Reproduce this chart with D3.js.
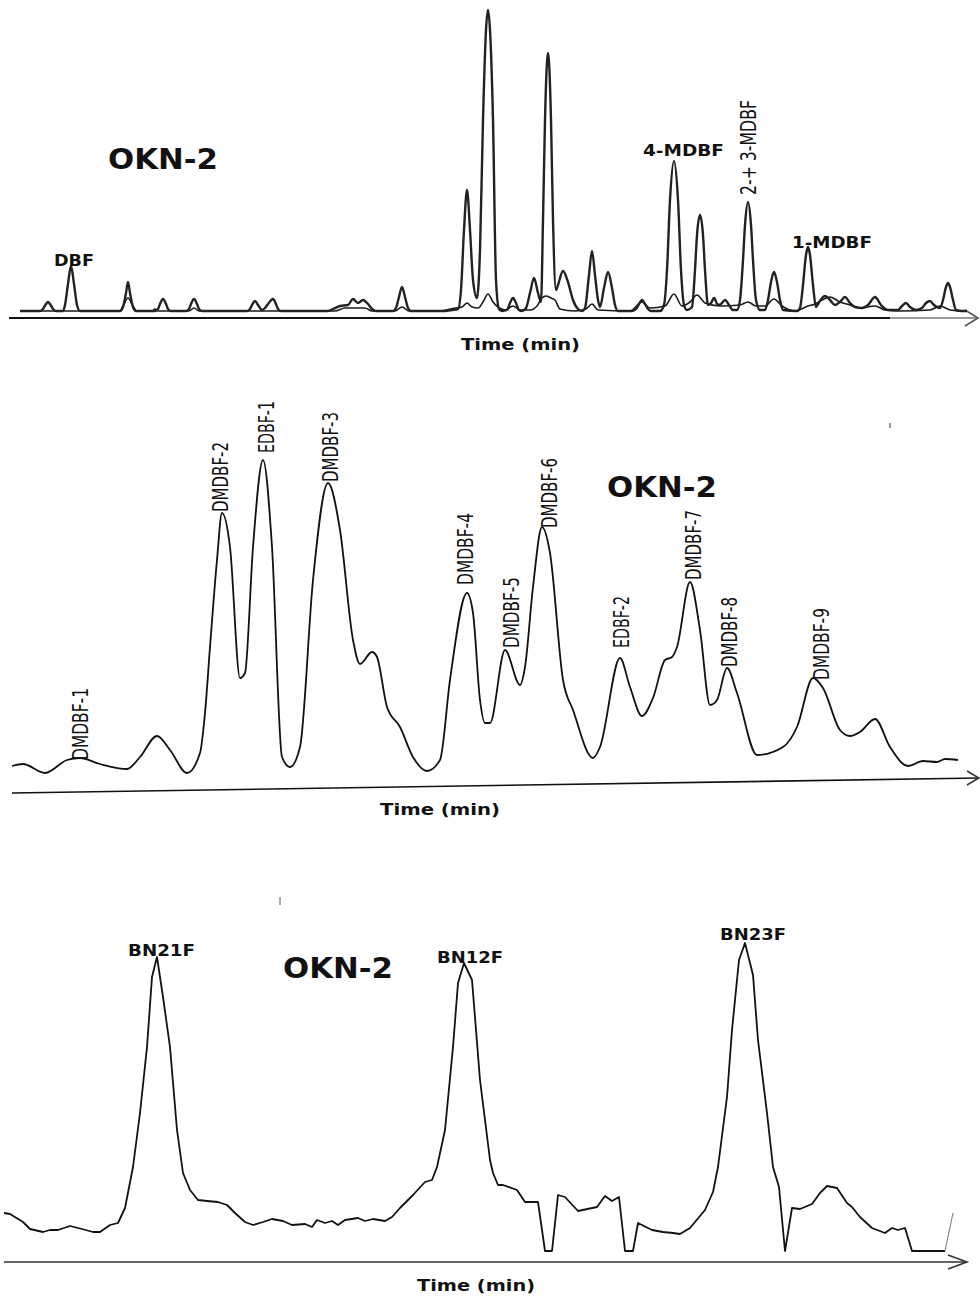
<!DOCTYPE html>
<html>
<head>
<meta charset="utf-8">
<script src="https://cdn.jsdelivr.net/npm/d3@7"></script>
<style>
  html, body { margin: 0; padding: 0; background: #fff; }
  text { font-family: "DejaVu Sans", Verdana, sans-serif; fill: #111; }
</style>
</head>
<body>
<svg id="fig" width="980" height="1298"></svg>
<script>
// ---- Panel A: m/z 182 (methyldibenzofurans) and m/z 168 (DBF), time in min, abundance in arbitrary units
const mdbfTrace = [
  [1.0,0],[2.0,0],[2.15,2],[2.3,7],[2.4,9],[2.5,7],[2.65,2],[2.8,0],
  [3.15,0],[3.25,6],[3.4,27],[3.55,45],[3.7,27],[3.85,6],[4.0,0],
  [6.0,0],[6.15,4],[6.3,18],[6.4,29],[6.5,18],[6.65,4],[6.8,0],
  [7.75,0],[7.9,2],[8.0,7],[8.15,12],[8.3,7],[8.4,2],[8.55,0],
  [9.3,0],[9.45,2],[9.55,7],[9.7,12],[9.85,7],[9.95,2],[10.1,0],
  [12.35,0],[12.5,2],[12.6,6],[12.75,10],[12.9,6],[13.1,1],[13.25,3],[13.4,7],[13.65,12],[13.8,7],[13.9,2],[14.05,0],
  [16.4,0],[16.65,2],[17.0,5],[17.4,6],[17.65,12],[17.9,8],[18.15,11],[18.4,7],[18.6,2],[18.8,0],
  [19.65,0],[19.8,3],[19.95,14],[20.1,24],[20.25,14],[20.4,3],[20.55,0],
  [22.25,0],[22.6,1],[22.9,2],[23.05,21],[23.2,81],[23.35,121],[23.5,81],[23.65,31],[23.85,13],
  [24.0,61],[24.15,191],[24.3,281],[24.4,301],[24.5,281],[24.65,191],[24.8,31],[24.95,2],[25.1,0],
  [25.35,1],[25.5,8],[25.65,13],[25.8,8],[25.95,1],[26.1,0],
  [26.3,3],[26.5,18],[26.7,33],[26.9,18],[27.05,9],
  [27.15,91],[27.25,191],[27.35,249],[27.4,258],[27.45,249],[27.55,191],[27.65,91],[27.8,21],
  [27.9,26],[28.15,40],[28.4,29],[28.65,11],[28.9,2],[29.1,0],
  [29.25,3],[29.45,36],[29.6,60],[29.75,36],[29.9,11],
  [30.0,4],[30.2,23],[30.4,39],[30.6,23],[30.75,6],[30.9,0],
  [31.6,0],[31.8,2],[31.95,7],[32.1,11],[32.25,7],[32.4,2],[32.55,0],
  [33.0,0],[33.2,6],[33.35,41],[33.5,111],[33.7,150],[33.9,111],[34.05,41],[34.2,6],[34.35,1],
  [34.6,4],[34.75,41],[34.85,76],[35.0,96],[35.15,76],[35.25,41],[35.4,6],
  [35.55,8],[35.7,13],[35.9,6],[36.05,7],[36.25,11],[36.45,6],[36.65,1],[36.85,1],
  [37.0,11],[37.15,51],[37.25,86],[37.4,109],[37.55,86],[37.65,51],[37.8,11],[38.0,1],
  [38.25,1],[38.4,11],[38.55,29],[38.7,39],[38.85,29],[39.0,11],[39.15,1],
  [39.85,0],[40.0,3],[40.15,26],[40.3,56],[40.4,64],[40.5,56],[40.65,26],[40.8,4],
  [40.9,7],[41.1,13],[41.25,15],[41.5,11],[41.75,6],[42.0,9],[42.25,14],[42.5,8],[42.75,4],
  [43.1,3],[43.4,6],[43.75,14],[44.05,6],[44.4,1],[44.9,1],[45.1,5],[45.3,8],[45.5,4],[45.8,1],
  [46.1,3],[46.3,8],[46.5,10],[46.7,6],[47.0,3],[47.15,11],[47.3,24],[47.4,28],[47.5,24],[47.65,11],[47.8,1],
  [48.1,0],[48.35,0]
];
const dbfTrace = [
  [1.0,0],[6.0,0],[6.15,5],[6.4,13],[6.65,5],[6.85,0],
  [7.6,0],[7.75,2],[7.9,0],
  [9.45,0],[9.7,3],[9.95,0],
  [16.75,0],[17.25,3],[17.75,3],[18.25,3],[18.6,0],
  [19.75,0],[20.1,4],[20.45,0],
  [22.0,0],[22.75,3],[23.1,4],[23.35,8],[23.6,4],[23.9,3],[24.15,9],[24.4,17],[24.65,9],[24.9,4],
  [25.25,1],[25.65,5],[26.0,1],[26.5,1],[26.85,5],[27.1,13],[27.3,15],[27.55,13],[27.75,11],[28.0,2],
  [28.75,0],[29.3,2],[29.6,7],[29.9,1],[31.5,0],[32.1,9],[32.5,3],[33.25,5],[33.7,17],[34.1,5],
  [34.5,9],[34.85,16],[35.25,8],[36.0,5],[37.0,6],[37.4,9],[37.8,5],[38.25,5],[38.7,12],[39.1,5],
  [39.75,0],[40.4,5],[40.75,7],[41.1,11],[41.5,14],[42.0,9],[42.5,6],[43.0,3],[43.75,5],[44.25,1],
  [45.0,0],[46.5,1],[47.0,5],[47.5,1],[48.0,0]
];
const panelAPeakLabels = [
  { name: "DBF",    t: 2.7,   v: 45,  width: 40 },
  { name: "4-MDBF", t: 32.15, v: 155, width: 81 },
  { name: "1-MDBF", t: 39.6,  v: 63,  width: 80 }
];
const panelARotatedLabels = [
  { name: "2-+ 3-MDBF", t: 37.4, v: 116, width: 95 }
];

// ---- Panel B: m/z 196 (dimethyl- and ethyl-dibenzofurans)
const dmdbfTrace = [
  [0.6,14],[1.15,16],[2.25,7],[3.35,20],[4.0,22],[5.0,16],[6.35,11],[7.0,23],[7.85,44],[8.5,30],
  [9.35,7],[10.0,27],[10.25,67],[10.5,133],[10.85,220],[11.1,267],[11.5,233],[12.0,102],[12.25,107],
  [12.65,233],[13.15,320],[13.6,233],[14.1,23],[14.5,13],[15.0,33],[15.65,200],[16.4,297],[17.0,250],
  [17.65,140],[18.0,116],[18.6,128],[18.85,123],[19.35,73],[20.0,53],[20.65,23],[21.35,9],[22.0,20],
  [22.5,100],[23.35,187],[23.65,167],[24.0,80],[24.25,57],[24.5,57],[25.25,130],[26.0,95],[26.25,113],
  [26.65,193],[27.1,253],[27.5,227],[28.15,100],[28.65,70],[29.65,22],[30.0,33],[31.0,122],[31.5,93],
  [32.1,64],[32.65,82],[33.25,120],[33.6,123],[33.85,133],[34.5,198],[35.0,150],[35.5,75],[35.85,80],
  [36.35,112],[36.85,87],[37.85,25],[39.15,33],[39.85,53],[40.65,102],[41.15,92],[42.0,50],[42.5,44],
  [43.0,48],[43.75,61],[44.5,33],[45.4,14],[46.15,19],[46.85,18],[47.25,21],[47.9,20]
];
const panelBLabels = [
  { name: "DMDBF-1", t: 4.0,   v: 20,  width: 72 },
  { name: "DMDBF-2", t: 11.0,  v: 268, width: 70 },
  { name: "EDBF-1",  t: 13.33, v: 327, width: 52 },
  { name: "DMDBF-3", t: 16.5,  v: 298, width: 70 },
  { name: "DMDBF-4", t: 23.28, v: 195, width: 72 },
  { name: "DMDBF-5", t: 25.55, v: 132, width: 71 },
  { name: "DMDBF-6", t: 27.48, v: 252, width: 70 },
  { name: "EDBF-2",  t: 31.08, v: 132, width: 52 },
  { name: "DMDBF-7", t: 34.68, v: 200, width: 70 },
  { name: "DMDBF-8", t: 36.48, v: 113, width: 70 },
  { name: "DMDBF-9", t: 41.05, v: 100, width: 72 }
];

// ---- Panel C: m/z 218 (benzonaphthofurans)
const bnfTrace = [
  [0.2,38],[0.5,37],[1.15,29],[1.5,22],[2.15,19],[2.5,21],[2.9,21],[3.5,25],[4.1,22],[4.65,19],[5.0,19],
  [5.5,26],[5.9,28],[6.25,43],[6.65,84],[7.0,138],[7.35,204],[7.6,274],[7.85,294],[8.15,254],[8.5,204],
  [8.85,121],[9.15,78],[9.5,61],[9.9,51],[10.35,50],[10.9,49],[11.35,46],[11.75,38],[12.25,29],[12.65,26],
  [13.15,29],[13.6,32],[14.15,30],[14.6,26],[15.25,27],[15.6,24],[15.85,31],[16.25,28],[16.6,30],[16.9,26],
  [17.25,31],[17.9,33],[18.25,30],[18.65,32],[19.25,30],[19.6,34],[20.0,43],[20.65,56],[21.25,69],[21.6,71],
  [21.85,84],[22.25,121],[22.65,204],[22.9,268],[23.2,288],[23.6,271],[24.0,171],[24.5,91],[24.65,78],
  [24.9,66],[25.15,66],[25.85,61],[26.25,49],[26.9,49],[27.25,0],[27.6,0],[27.9,56],[28.25,54],[28.9,40],
  [29.85,44],[30.25,55],[30.6,50],[30.95,54],[31.25,0],[31.65,0],[31.9,28],[32.6,21],[33.15,19],[33.65,18],
  [34.0,17],[34.5,23],[35.25,41],[35.65,59],[35.9,84],[36.35,154],[36.6,221],[36.95,291],[37.25,308],
  [37.65,276],[37.9,211],[38.35,138],[38.65,84],[38.95,64],[39.25,0],[39.6,43],[40.0,42],[40.6,47],
  [41.0,58],[41.35,65],[41.85,63],[42.35,48],[42.6,44],[43.0,34],[43.6,23],[44.25,18],[44.6,23],[44.9,21],
  [45.25,23],[45.6,0],[47.25,0]
];
const bnfTail = [[47.25,0],[47.65,38]];
const panelCLabels = [
  { name: "BN21F", t: 6.4,   v: 295, width: 67 },
  { name: "BN12F", t: 21.85, v: 288, width: 66 },
  { name: "BN23F", t: 36.0,  v: 311, width: 66 }
];

const svg = d3.select("#fig");
const x = d3.scaleLinear().domain([0, 49]).range([0, 980]);

// vertical scales, one per panel
const yA = d3.scaleLinear().domain([0, 301]).range([311, 10]);
const yB = d3.scaleLinear().domain([0, 330]).range([780, 450]);
const yC = d3.scaleLinear().domain([0, 330]).range([1251, 921]);

function lineFor(y, curve) {
  return d3.line().x(d => x(d[0])).y(d => y(d[1])).curve(curve);
}

function drawTitle(tx, ty) {
  svg.append("text").attr("x", tx).attr("y", ty)
    .attr("font-size", 28).attr("font-weight", "bold")
    .attr("textLength", 110).attr("lengthAdjust", "spacingAndGlyphs")
    .text("OKN-2");
}
function drawTimeLabel(tx, ty, w) {
  svg.append("text").attr("x", tx).attr("y", ty)
    .attr("font-size", 16).attr("font-weight", "bold")
    .attr("textLength", w).attr("lengthAdjust", "spacingAndGlyphs")
    .text("Time (min)");
}
function drawArrowHead(tipX, tipY, back, spread, color) {
  svg.append("path")
    .attr("d", d3.line()([[tipX - back, tipY - spread], [tipX, tipY], [tipX - back, tipY + spread]]))
    .attr("fill", "none").attr("stroke", color).attr("stroke-width", 1.6);
}
function boldLabels(list, y) {
  svg.append("g").selectAll("text").data(list).join("text")
    .attr("x", d => x(d.t)).attr("y", d => y(d.v))
    .attr("font-size", 15).attr("font-weight", "bold")
    .attr("textLength", d => d.width).attr("lengthAdjust", "spacingAndGlyphs")
    .text(d => d.name);
}
function rotatedLabels(list, y) {
  svg.append("g").selectAll("text").data(list).join("text")
    .attr("transform", d => `translate(${x(d.t)},${y(d.v)}) rotate(-90)`)
    .attr("dy", "0.36em")
    .attr("font-size", 21)
    .attr("textLength", d => d.width).attr("lengthAdjust", "spacingAndGlyphs")
    .text(d => d.name);
}

// ---------------- Panel A ----------------
const axisAy = yA(0) + 7;
svg.append("line").attr("x1", x(0.45)).attr("x2", x(44.5)).attr("y1", axisAy).attr("y2", axisAy)
  .attr("stroke", "#111").attr("stroke-width", 2);
svg.append("line").attr("x1", x(44.5)).attr("x2", x(48.9)).attr("y1", axisAy).attr("y2", axisAy)
  .attr("stroke", "#777").attr("stroke-width", 1.5);
drawArrowHead(x(48.9), axisAy, 13, 8, "#555");

svg.append("path").datum(dbfTrace).attr("d", lineFor(yA, d3.curveMonotoneX))
  .attr("fill", "none").attr("stroke", "#1a1a1a").attr("stroke-width", 1.6);
svg.append("path").datum(mdbfTrace).attr("d", lineFor(yA, d3.curveMonotoneX))
  .attr("fill", "none").attr("stroke", "#222").attr("stroke-width", 2.4).attr("stroke-linejoin", "round");

drawTitle(108, 169);
boldLabels(panelAPeakLabels, yA);
rotatedLabels(panelARotatedLabels, yA);
drawTimeLabel(461, 350, 119);

// ---------------- Panel B ----------------
const axisBLeft = yB(0) + 13, axisBRight = yB(0) - 2;
svg.append("line").attr("x1", x(0.6)).attr("x2", x(48.95)).attr("y1", axisBLeft).attr("y2", axisBRight)
  .attr("stroke", "#111").attr("stroke-width", 1.6);
drawArrowHead(x(48.95), axisBRight, 12, 7, "#333");

svg.append("path").datum(dmdbfTrace).attr("d", lineFor(yB, d3.curveMonotoneX))
  .attr("fill", "none").attr("stroke", "#111").attr("stroke-width", 1.8).attr("stroke-linejoin", "round");

svg.append("line").attr("x1", x(44.5)).attr("x2", x(44.5)).attr("y1", yB(357)).attr("y2", yB(352))
  .attr("stroke", "#333").attr("stroke-width", 1);

drawTitle(607, 497);
rotatedLabels(panelBLabels, yB);
drawTimeLabel(380, 815, 120);

// ---------------- Panel C ----------------
const axisCy = yC(0) + 11;
svg.append("line").attr("x1", x(0.2)).attr("x2", x(48.35)).attr("y1", axisCy).attr("y2", axisCy)
  .attr("stroke", "#333").attr("stroke-width", 1.6);
drawArrowHead(x(48.35), axisCy, 19, 7, "#333");

svg.append("path").datum(bnfTrace).attr("d", lineFor(yC, d3.curveLinear))
  .attr("fill", "none").attr("stroke", "#111").attr("stroke-width", 1.8).attr("stroke-linejoin", "round");
svg.append("path").datum(bnfTail).attr("d", lineFor(yC, d3.curveLinear))
  .attr("fill", "none").attr("stroke", "#888").attr("stroke-width", 1.2);

svg.append("line").attr("x1", x(14.0)).attr("x2", x(14.0)).attr("y1", yC(354)).attr("y2", yC(346))
  .attr("stroke", "#555").attr("stroke-width", 1);

drawTitle(283, 978);
boldLabels(panelCLabels, yC);
drawTimeLabel(417, 1291, 118);
</script>
</body>
</html>
